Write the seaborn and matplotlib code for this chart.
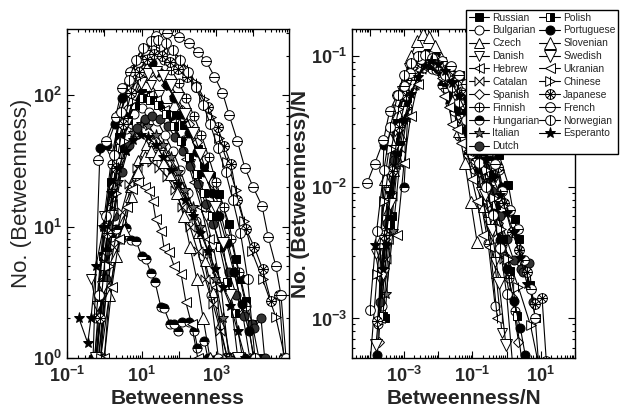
import numpy as np
import matplotlib
matplotlib.use("Agg")
import matplotlib.pyplot as plt
import matplotlib.ticker as mticker
from matplotlib.lines import Line2D
from matplotlib.path import Path
import seaborn as sns

# betweenness distributions (left panel)
languages = ["Russian", "Bulgarian", "Czech", "Danish", "Hebrew", "Catalan",
             "Spanish", "Finnish", "Hungarian", "Italian", "Dutch",
             "Polish", "Portuguese", "Slovenian", "Swedish", "Ukranian",
             "Chinese", "Japanese", "French", "Norwegian", "Esperanto"]

russian_x = [0.55, 0.9, 1.5, 2.5, 4, 6.5, 10, 16, 26, 42, 84, 140, 320, 480, 720, 1200, 2250, 3400, 4600, 6300, 9400, 14000]
russian_y = [1, 6, 22, 48, 75, 95, 105, 100, 92, 82, 71, 59, 39, 30, 24.5, 17.7, 10.4, 5.7, 4, 2.7, 1.8, 1]
bulgarian_x = [0.55, 0.9, 1.5, 2.4, 3.9, 6.3, 10, 16, 26, 42, 68, 110, 175, 280, 450, 720, 1150]
bulgarian_y = [1, 4, 14, 32, 55, 72, 80, 75, 64, 50, 38, 27, 18, 11, 6, 3, 1]
czech_x = [0.8, 1.36, 2, 3.2, 5, 8, 13, 20, 32, 50, 80, 125, 200, 320, 500, 800, 1250, 2000]
czech_y = [1, 3, 6, 11, 20, 32, 42, 45, 42, 35, 27, 20, 14, 9, 5.5, 3.2, 1.8, 1]
danish_x = [0.44, 0.62, 1, 1.6, 2.6, 4.2, 6.8, 11, 18, 29, 47, 76, 120, 200, 320, 520, 840, 1350, 2200]
danish_y = [4, 2.5, 12, 35, 70, 105, 125, 130, 120, 100, 80, 60, 44, 30, 20, 12, 7, 3.5, 1]
hebrew_x = [0.6, 1, 1.6, 2.5, 4, 6.3, 10, 16, 25, 40, 63, 100, 160, 250, 400, 630, 1000, 1600]
hebrew_y = [1, 4, 15, 35, 60, 85, 98, 100, 92, 78, 62, 46, 33, 22, 14, 8, 3.5, 1]
catalan_x = [0.7, 1.1, 1.8, 2.9, 4.6, 7.4, 12, 19, 30, 48, 77, 120, 200, 320, 510, 820, 1300, 2000]
catalan_y = [1, 3, 7, 13, 21, 28, 32, 31, 28, 24, 19, 14, 10, 6.5, 4, 2.6, 1.6, 1]
spanish_x = [0.65, 1, 1.7, 2.7, 4.3, 7, 11, 18, 29, 46, 74, 120, 190, 300, 480, 770, 1200, 2000, 3200, 5100, 8000]
spanish_y = [1, 6, 20, 45, 80, 115, 140, 150, 140, 120, 98, 78, 60, 44, 32, 22, 14, 8, 4.5, 2.2, 1]
finnish_x = [0.6, 1, 1.6, 2.5, 4, 6.3, 10, 16, 25, 40, 63, 100, 160, 250, 400, 630, 1000, 1600, 2500, 4000, 6300, 10000]
finnish_y = [2, 10, 30, 65, 110, 160, 200, 220, 210, 185, 155, 125, 95, 70, 50, 34, 22, 14, 8, 4.5, 2.5, 1]
hungarian_x = [0.8, 1.15, 1.55, 2.1, 2.8, 3.8, 5.2, 7.1, 10, 13, 17.8, 23, 33, 40, 59, 75, 92, 125, 190, 260, 316, 480, 600]
hungarian_y = [1, 6.5, 8.3, 9.6, 8.1, 9.7, 7.9, 7.8, 6.0, 5.7, 4.4, 3.8, 2.43, 2.4, 1.8, 1.8, 1.6, 1.87, 1.87, 1.6, 1.2, 1.35, 1]
italian_x = [0.6, 0.95, 1.5, 2.4, 3.8, 6, 9.5, 15, 24, 38, 60, 95, 150, 240, 380, 600, 950, 1500, 2400]
italian_y = [1, 3, 10, 22, 38, 52, 60, 58, 50, 42, 34, 26, 19, 14, 10, 6.5, 4, 2, 1]
dutch_x = [0.7, 1.1, 1.8, 2.9, 4.7, 7.5, 12, 19, 31, 50, 80, 130, 200, 330, 520, 840, 1350, 2200, 3500, 5600, 9000, 10500, 16000, 20000]
dutch_y = [1, 4, 12, 26, 42, 56, 66, 70, 66, 58, 48, 38, 29, 21, 15, 10.5, 7, 4.5, 3, 2.1, 1.8, 1.7, 2.0, 1]
polish_x = [0.6, 1, 1.6, 2.6, 4.2, 6.8, 11, 17, 28, 45, 72, 115, 185, 300, 480, 770, 1240, 2000, 3200, 5100]
polish_y = [1, 5, 18, 40, 65, 85, 95, 92, 85, 72, 58, 45, 34, 25, 18, 12, 7, 3.8, 2.2, 1]
portuguese_x = [0.5, 0.77, 1.2, 1.9, 3, 4.8, 7.6, 12, 19, 30, 48, 76, 120, 190, 300, 480, 760, 1200, 1900, 3000, 4800, 7600, 10500]
portuguese_y = [1, 40, 42, 60, 95, 150, 180, 185, 175, 150, 120, 95, 72, 52, 37, 26, 18, 12, 7.5, 4.5, 2.6, 1.6, 1]
slovenian_x = [1, 1.36, 2, 3.4, 5.2, 8, 12, 18, 27, 40, 60, 90, 135, 200, 300, 450, 680]
slovenian_y = [1, 3, 6, 9.5, 17, 26, 34, 38, 36, 31, 25, 18, 12, 7, 4, 2, 1]
swedish_x = [0.6, 0.95, 1.5, 2.4, 3.8, 6, 9.5, 15, 24, 38, 60, 95, 150, 240, 380, 600, 950, 1500, 2400, 3800]
swedish_y = [1, 3.5, 12, 30, 60, 95, 125, 145, 150, 140, 120, 95, 72, 52, 36, 24, 14, 7.5, 3, 1]
ukranian_x = [1, 1.6, 2.5, 4, 5.7, 8.2, 12, 16, 20, 24, 34, 40, 55, 75, 115, 155, 220, 320]
ukranian_y = [1, 3.5, 8, 14, 19.3, 22, 20, 18.7, 15.7, 11.4, 9.3, 6.9, 6.4, 5, 4.35, 2.65, 1.8, 1]
chinese_x = [0.8, 1.3, 2.1, 3.4, 5.5, 9, 15, 25, 40, 65, 105, 170, 280, 480, 720, 1200, 2000, 3400, 5600, 9000, 17600, 40000, 70000]
chinese_y = [1, 5, 18, 45, 90, 140, 185, 225, 235, 220, 190, 160, 125, 94, 68, 47, 31, 19, 11, 6.5, 4, 2.04, 1]
japanese_x = [0.75, 1.2, 2, 3.2, 5.3, 8.5, 14, 22, 36, 58, 95, 170, 290, 590, 1100, 1650, 2500, 3700, 6300, 10500, 17600, 29500, 49000, 65000]
japanese_y = [2, 9, 28, 60, 105, 150, 190, 205, 200, 180, 160, 137, 115, 82, 57, 41, 30, 16, 9.6, 7, 4.75, 2.7, 3.0, 1]
french_x = [0.66, 1.1, 2, 3, 5, 8, 12, 25, 47, 100, 190, 320, 530, 900, 1480, 2230, 3700, 5900, 9800, 17000, 25000, 40000, 55000, 75000]
french_y = [32, 45, 68, 113, 150, 178, 223, 283, 298, 276, 250, 214, 183, 139, 105, 71, 45, 28, 20, 14.4, 8.3, 5, 3, 1]
norwegian_x = [0.7, 1.1, 1.8, 2.8, 4.5, 7, 11, 18, 28, 45, 70, 110, 180, 280, 450, 700, 1100, 1800, 2800, 4500, 7000, 11000]
norwegian_y = [3, 12, 35, 75, 130, 185, 230, 260, 265, 250, 220, 185, 150, 115, 85, 60, 40, 26, 16, 9, 4, 1]
esperanto_x = [0.21, 0.36, 0.44, 0.6, 0.95, 1.5, 2.4, 3.8, 6, 9.5, 15, 24, 38, 60, 95, 150, 240, 380, 600, 950, 1500, 2400, 3800, 6000]
esperanto_y = [2, 1.3, 2, 5, 10, 18, 28, 38, 46, 50, 48, 42, 34, 27, 21, 16, 12, 9, 6.5, 4.8, 3.5, 2.5, 1.6, 1]

xs = [russian_x, bulgarian_x, czech_x, danish_x, hebrew_x, catalan_x,
      spanish_x, finnish_x, hungarian_x, italian_x, dutch_x,
      polish_x, portuguese_x, slovenian_x, swedish_x, ukranian_x,
      chinese_x, japanese_x, french_x, norwegian_x, esperanto_x]
ys = [russian_y, bulgarian_y, czech_y, danish_y, hebrew_y, catalan_y,
      spanish_y, finnish_y, hungarian_y, italian_y, dutch_y,
      polish_y, portuguese_y, slovenian_y, swedish_y, ukranian_y,
      chinese_y, japanese_y, french_y, norwegian_y, esperanto_y]

# per-language normalisation used by the right panel
norm_x = [2000, 2500, 4000, 3000, 3000, 2400, 3600, 3500, 800, 2000, 3500,
          2500, 3000, 5000, 4000, 1600, 8000, 4500, 8000, 7000, 1500]
norm_y = [1000, 800, 450, 1300, 1000, 350, 1500, 2200, 100, 650, 750,
          950, 1900, 260, 1600, 230, 2300, 2100, 3000, 2600, 550]


def compound(base, *segs):
    parts = [base] + [Path(s, [Path.MOVETO, Path.LINETO]) for s in segs]
    return Path.make_compound_path(*parts)


circle = Path.unit_circle()
tri_left = Path([(1, 1), (-1, 0), (1, -1), (1, 1)], closed=True)
tri_right = Path([(-1, 1), (1, 0), (-1, -1), (-1, 1)], closed=True)
bowtie = Path([(-1, -1), (1, 1), (1, -1), (-1, 1), (-1, -1)], closed=True)
d = 0.7
m_finnish = compound(circle, [(0, -1), (0, 1)], [(-1, 0), (1, 0)])
m_norwegian = compound(circle, [(0, -1), (0, 1)])
m_french = compound(circle, [(-1, 0), (1, 0)])
m_hebrew = compound(tri_left, [(0, -1), (0, 1)])
m_chinese = compound(tri_right, [(0, -1), (0, 1)])
m_japanese = compound(circle, [(0, -1), (0, 1)], [(-1, 0), (1, 0)],
                      [(-d, -d), (d, d)], [(-d, d), (d, -d)])

W, K = "white", "black"
# marker, face colour, fill style, size
styles = [
    ("s", K, "full", 6), ("o", W, "full", 6.5), ("^", W, "full", 7),
    ("v", W, "full", 7), (m_hebrew, W, "full", 7), (bowtie, W, "full", 6.5),
    ("D", W, "full", 5.5), (m_finnish, W, "full", 6.5), ("o", K, "top", 6.5),
    ("*", "#666666", "full", 8), ("o", "#333333", "full", 6.5),
    ("s", K, "right", 6), ("o", K, "full", 6.5), ("^", W, "full", 8),
    ("v", W, "full", 8), ("<", W, "full", 7), (m_chinese, W, "full", 7),
    (m_japanese, W, "full", 7), (m_french, W, "full", 7),
    (m_norwegian, W, "full", 7), ("*", K, "full", 8),
]

sns.set_style("ticks")
plt.rcParams["font.family"] = ["Liberation Sans", "DejaVu Sans"]
plt.rcParams["mathtext.fontset"] = "custom"
plt.rcParams["mathtext.bf"] = "Liberation Sans:bold"
plt.rcParams["mathtext.rm"] = "Liberation Sans:bold"

fig = plt.figure(figsize=(6.26, 4.15), dpi=100)
ax1 = fig.add_axes([67 / 626, 57 / 415, 222 / 626, 329 / 415])
ax2 = fig.add_axes([352 / 626, 57 / 415, 223 / 626, 329 / 415])


def draw(ax, i, x, y):
    mk, fc, fs, ms = styles[i]
    sns.lineplot(x=x, y=y, ax=ax, color="black", linewidth=0.8, marker=mk,
                 markersize=ms, markerfacecolor=fc, markerfacecoloralt="white",
                 fillstyle=fs, markeredgecolor="black", markeredgewidth=0.7,
                 sort=False, estimator=None, errorbar=None, legend=False)


for i in range(len(languages)):
    x = np.array(xs[i], dtype=float)
    y = np.array(ys[i], dtype=float)
    draw(ax1, i, x, y)
    draw(ax2, i, x / norm_x[i], y / norm_y[i])


def fmt_odd(v, pos):
    e = int(round(np.log10(v)))
    return r"$\mathbf{10^{%d}}$" % e if e % 2 else ""


def fmt_all(v, pos):
    e = int(round(np.log10(v)))
    return r"$\mathbf{10^{%d}}$" % e


for ax, xl, yl in [(ax1, (0.1, 9e4), (1, 320)), (ax2, (3e-5, 100), (5e-4, 0.16))]:
    ax.set_xscale("log")
    ax.set_yscale("log")
    ax.set_xlim(*xl)
    ax.set_ylim(*yl)
    for axis, f in [(ax.xaxis, fmt_odd), (ax.yaxis, fmt_all)]:
        axis.set_major_locator(mticker.LogLocator(base=10, numticks=20))
        axis.set_minor_locator(mticker.LogLocator(base=10, subs=np.arange(2, 10), numticks=20))
        axis.set_major_formatter(mticker.FuncFormatter(f))
        axis.set_minor_formatter(mticker.NullFormatter())
    ax.tick_params(which="both", direction="in", top=True, right=True,
                   labelsize=13, width=0.8, color="black")
    ax.tick_params(which="major", length=5)
    ax.tick_params(which="minor", length=2.5)
    ax.tick_params(axis="x", pad=6)
    for s in ax.spines.values():
        s.set_linewidth(1.0)
        s.set_color("black")

ax1.set_xlabel("Betweenness", fontsize=15, fontweight="bold", labelpad=2)
ax1.set_ylabel("No. (Betweenness)", fontsize=16, labelpad=1)
ax2.set_xlabel("Betweenness/N", fontsize=15, fontweight="bold", labelpad=2)
ax2.set_ylabel("No. (Betweenness)/N", fontsize=15, fontweight="bold", labelpad=1)

handles = []
for i, name in enumerate(languages):
    mk, fc, fs, ms = styles[i]
    handles.append(Line2D([], [], color="black", linewidth=0.8, marker=mk,
                          markersize=ms, markerfacecolor=fc,
                          markerfacecoloralt="white", fillstyle=fs,
                          markeredgecolor="black", markeredgewidth=0.7))
leg = fig.legend(handles, languages, ncol=2, loc="upper left",
                 bbox_to_anchor=(466 / 626, 405 / 415), fontsize=7.4,
                 frameon=True, fancybox=False, edgecolor="black",
                 framealpha=1, borderpad=0.25, labelspacing=0.28,
                 handlelength=2.0, handletextpad=0.3, columnspacing=0.0,
                 borderaxespad=0)
leg.get_frame().set_linewidth(1.0)

fig.savefig("out.png", dpi=100)
